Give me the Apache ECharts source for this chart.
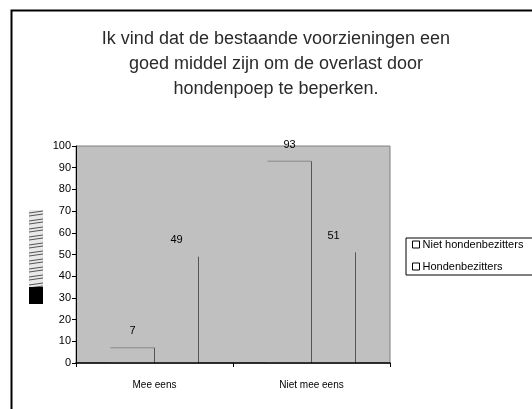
<!DOCTYPE html>
<html><head><meta charset="utf-8">
<script src="https://cdn.jsdelivr.net/npm/echarts@6/dist/echarts.min.js"></script>
<style>html,body{margin:0;padding:0;background:#fff}#c{width:532px;height:409px}</style>
</head><body><div id="c"></div>
<script>
var titleLines = ['Ik vind dat de bestaande voorzieningen een', 'goed middel zijn om de overlast door', 'hondenpoep te beperken.'];
var categories = ['Mee eens', 'Niet mee eens'];
var seriesNames = ['Niet hondenbezitters', 'Hondenbezitters'];
var nietHondenbezitters = [7, 93];
var hondenbezitters = [49, 51];
var yTicks = [0, 10, 20, 30, 40, 50, 60, 70, 80, 90, 100];

var chart = echarts.init(document.getElementById('c'), null, {renderer: 'canvas'});

// hatch pattern for the garbled axis title block
var pc = document.createElement('canvas'); pc.width = 14; pc.height = 8;
var pctx = pc.getContext('2d');
pctx.fillStyle = '#e8e8e8'; pctx.fillRect(0,0,14,8);
pctx.strokeStyle = '#555'; pctx.lineWidth = 1.2;
pctx.beginPath(); pctx.moveTo(0,3); pctx.lineTo(14,1); pctx.moveTo(0,6); pctx.lineTo(14,4); pctx.stroke();

var allSeries = [nietHondenbezitters, hondenbezitters];
var barW = 44;

function edgeRender(sIdx) {
  return function (params, api) {
    var cat = api.value(0), val = api.value(1);
    var top = api.coord([cat, val]);
    var base = api.coord([cat, 0]);
    var cx = top[0] + (sIdx === 0 ? -barW / 2 : barW / 2);
    var x0 = cx - barW / 2, x1 = cx + barW / 2;
    var children = [{
      type: 'line', shape: {x1: x1, y1: top[1], x2: x1, y2: base[1]},
      style: {stroke: '#555', lineWidth: 1}
    }];
    if (sIdx === 0) {
      children.push({type: 'line', shape: {x1: x0, y1: top[1], x2: x1, y2: top[1]}, style: {stroke: '#888', lineWidth: 1}});
    }
    return {type: 'group', children: children};
  };
}

var series = [];
allSeries.forEach(function (arr, i) {
  series.push({
    name: seriesNames[i], type: 'bar', data: arr, barWidth: barW, barGap: '0%',
    itemStyle: {color: '#C0C0C0'},
    label: {show: true, position: 'top', distance: 11, color: '#000', fontSize: 11, fontFamily: 'Liberation Sans'}
  });
});
allSeries.forEach(function (arr, i) {
  series.push({
    type: 'custom', silent: true, z: 3,
    data: arr.map(function (v, j) { return [j, v]; }),
    renderItem: edgeRender(i)
  });
});

chart.setOption({
  animation: false,
  backgroundColor: '#fff',
  title: {
    text: titleLines.join('\n'), left: 271, top: 22, textAlign: 'center',
    textStyle: {fontFamily: 'Liberation Sans', fontSize: 18, fontWeight: 'normal', color: '#2a2a2a', lineHeight: 25}
  },
  legend: {
    orient: 'vertical', left: 406, top: 238, data: seriesNames,
    icon: 'rect', itemWidth: 7, itemHeight: 7, itemGap: 11,
    padding: [1, 20, 3, 6], borderColor: '#000', borderWidth: 1, backgroundColor: '#fff',
    itemStyle: {color: '#fff', borderColor: '#000', borderWidth: 1},
    textStyle: {fontFamily: 'Liberation Sans', fontSize: 11, color: '#000', padding: [0, 0, 0, -2]}
  },
  grid: {left: 76, top: 146, right: 142, bottom: 46, show: true, backgroundColor: '#C0C0C0', borderColor: '#808080', borderWidth: 1},
  xAxis: {
    type: 'category', data: categories, z: 10,
    axisLine: {lineStyle: {color: '#000', width: 1.5}},
    axisTick: {show: true, length: 4, lineStyle: {color: '#000'}},
    axisLabel: {color: '#000', fontSize: 10, fontFamily: 'Liberation Sans', margin: 17}
  },
  yAxis: {
    type: 'value', min: yTicks[0], max: yTicks[yTicks.length - 1], interval: 10, z: 10,
    axisLine: {show: true, lineStyle: {color: '#000', width: 1}},
    axisTick: {show: true, length: 4, lineStyle: {color: '#000'}},
    axisLabel: {color: '#000', fontSize: 11, fontFamily: 'Liberation Sans', margin: 5},
    splitLine: {show: false}
  },
  graphic: [
    {type: 'rect', left: 9, top: 8, shape: {width: 620, height: 500}, style: {fill: 'none', stroke: '#000', lineWidth: 2}, silent: true},
    {type: 'rect', left: 29, top: 210, shape: {width: 14, height: 77}, style: {fill: {image: pc, repeat: 'repeat'}}, silent: true},
    {type: 'rect', left: 29, top: 287, shape: {width: 14, height: 17}, style: {fill: '#000'}, silent: true}
  ],
  series: series
});
</script></body></html>
